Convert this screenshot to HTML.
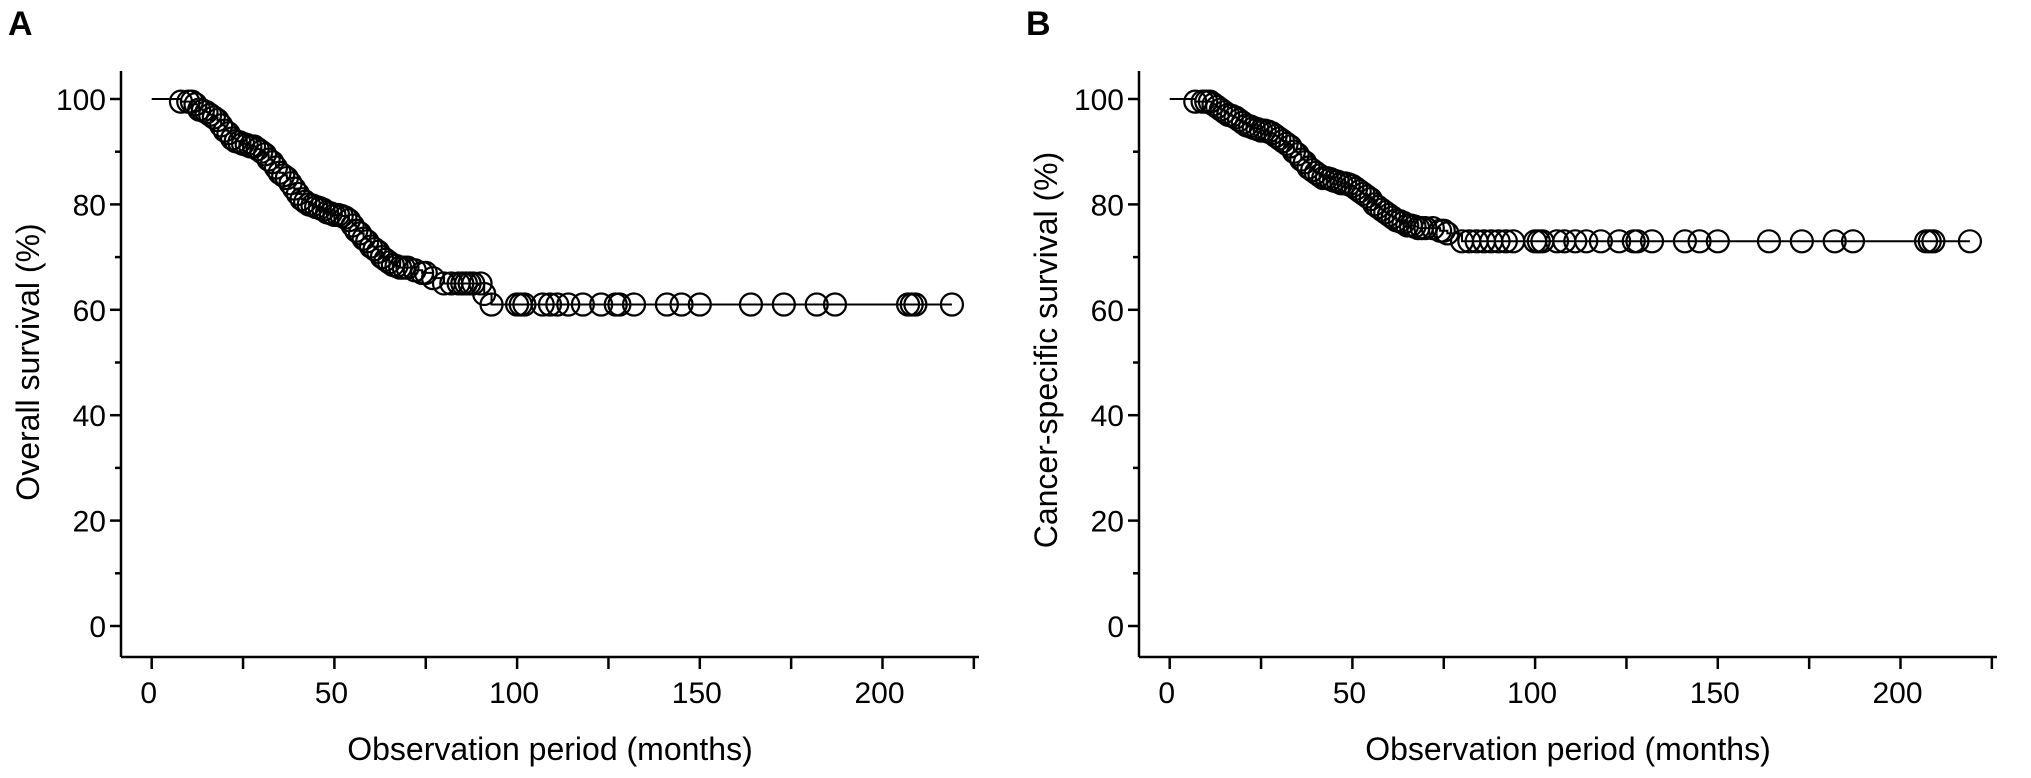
<!DOCTYPE html>
<html><head><meta charset="utf-8">
<style>
body{margin:0;background:#fff;}
svg{display:block;font-family:"Liberation Sans",Arial,sans-serif;}
</style></head>
<body>
<svg id="fig" width="2031" height="778" viewBox="0 0 2031 778" xmlns="http://www.w3.org/2000/svg"></svg>
<script>
const xTicks=[0,50,100,150,200];
const xMinorTicks=[25,75,125,175,225];
const yTicks=[0,20,40,60,80,100];
const yMinorTicks=[10,30,50,70,90];
const panelLabels=["A","B"];
const yTitles=["Overall survival (%)","Cancer-specific survival (%)"];
const xTitle="Observation period (months)";
const osTimes=[8,10,11,12,13,14,15,16,17,18,19,20,21,22,23,24,25,26,27,28,29,30,31,32,33,34,35,36,37,38,39,40,41,42,43,44,45,46,47,48,49,50,51,52,53,54,55,56,57,58,59,60,61,62,63,64,65,66,67,68,69,70,72,74,75,77,80,82,84,85,86,87,88,90,91,93,100,101,102,107,109,111,114,118,123,127,128,132,141,145,150,164,173,182,187,207,208,209,219];
const osValues=[99.5,99.5,99.5,99,98,97.8,97.5,97,96.5,96,95,94,93.5,92.5,92,91.8,91.5,91.3,91,91,90.5,90,89.5,88.5,88,87,86,85.5,85,84,83,82,81,80.5,80,79.8,79.5,79.3,79,78.5,78.3,78,78,77.8,77.5,77,76,75,74.5,73.5,73,72,71.5,71,70,69.5,69,68.5,68.3,68,68,68,67.5,67,67,66,65,65,65,65,65,65,65,65,63,61,61,61,61,61,61,61,61,61,61,61,61,61,61,61,61,61,61,61,61,61,61,61,61];
const cssTimes=[7,9,10,11,12,13,14,15,16,17,18,19,20,21,22,23,24,25,26,27,28,29,30,31,32,33,34,35,36,37,38,39,40,41,42,43,44,45,46,47,48,49,50,51,52,53,54,55,56,57,58,59,60,61,62,63,64,65,66,67,68,69,70,72,74,75,76,80,82,84,86,88,90,92,94,100,101,102,106,108,111,114,118,123,127,128,132,141,145,150,164,173,182,187,207,208,209,219];
const cssValues=[99.5,99.5,99.5,99.5,99,98.5,98,97.5,97,96.8,96.5,96,95.5,95,94.8,94.5,94.3,94,94,93.8,93.5,93,92.5,92,91.5,91,90,89.5,88.5,88,87,86.5,86,85.5,85,85,84.8,84.5,84.3,84,84,83.8,83.5,83,82.5,82,81.5,81,80,79.5,79,78.5,78,77.5,77,76.8,76.5,76,76,75.8,75.5,75.5,75.5,75.5,75,75,74.5,73,73,73,73,73,73,73,73,73,73,73,73,73,73,73,73,73,73,73,73,73,73,73,73,73,73,73,73,73,73,73];
const series=[[osTimes,osValues],[cssTimes,cssValues]];

const NS="http://www.w3.org/2000/svg";
const svg=document.getElementById('fig');
function mk(tag,attrs,parent){const e=document.createElementNS(NS,tag);for(const k in attrs)e.setAttribute(k,attrs[k]);(parent||svg).appendChild(e);return e;}

[0,1].forEach(p=>{
  const off=p*1018;
  const ax=121+off, x0=151.7+off, xs=3.654, y0=626, ys=5.27;
  const X=t=>x0+t*xs, Y=v=>y0-v*ys;
  const g=mk('g',{});
  
  
  const lab=mk('text',{x:8+off,y:35,'font-size':34,'font-weight':'bold'},g);
  lab.textContent=panelLabels[p];
  
  
  const yax=mk('line',{x1:ax,y1:71,x2:ax,y2:657,stroke:'#000','stroke-width':2.5},g);
  
  
  const xax=mk('line',{x1:ax,y1:657,x2:979+off,y2:657,stroke:'#000','stroke-width':2.5},g);
  
  
  yTicks.forEach(v=>{
    const t=mk('line',{x1:ax-11,y1:Y(v),x2:ax,y2:Y(v),stroke:'#000','stroke-width':2.5},g);
    
    
    const l=mk('text',{x:ax-15,y:Y(v)+11,'font-size':30,'text-anchor':'end'},g);
    l.textContent=v;
    
    
  });
  yMinorTicks.forEach(v=>{
    const t=mk('line',{x1:ax-6,y1:Y(v),x2:ax,y2:Y(v),stroke:'#000','stroke-width':2.5},g);
    
    
  });
  xTicks.forEach(v=>{
    const t=mk('line',{x1:X(v),y1:657,x2:X(v),y2:669,stroke:'#000','stroke-width':2.5},g);
    
    
    const l=mk('text',{x:X(v)-3,y:703,'font-size':30,'text-anchor':'middle'},g);
    l.textContent=v;
    
    
  });
  xMinorTicks.forEach(v=>{
    const t=mk('line',{x1:X(v),y1:657,x2:X(v),y2:669,stroke:'#000','stroke-width':2.5},g);
    
    
  });
  const xt=mk('text',{x:550+off,y:760,'font-size':32,'text-anchor':'middle'},g);
  xt.textContent=xTitle;
  
  
  const yt=mk('text',{x:0,y:0,'font-size':32,'text-anchor':'middle',transform:`translate(${39+off},${(p?350:362)}) rotate(-90)`},g);
  yt.textContent=yTitles[p];
  
  
  const [ts,vs]=series[p];
  let d=`M${X(0)},${Y(100)}`, prev=100;
  ts.forEach((t,i)=>{d+=` H${X(t)}`; if(vs[i]!==prev){d+=` V${Y(vs[i])}`;prev=vs[i];}});
  const line=mk('path',{d:d,fill:'none',stroke:'#000','stroke-width':2},g);
  
  
  ts.forEach((t,i)=>{
    const c=mk('circle',{cx:X(t),cy:Y(vs[i]),r:11,fill:'none',stroke:'#000','stroke-width':2.2},g);
    
    
  });
});
</script>
</body></html>
